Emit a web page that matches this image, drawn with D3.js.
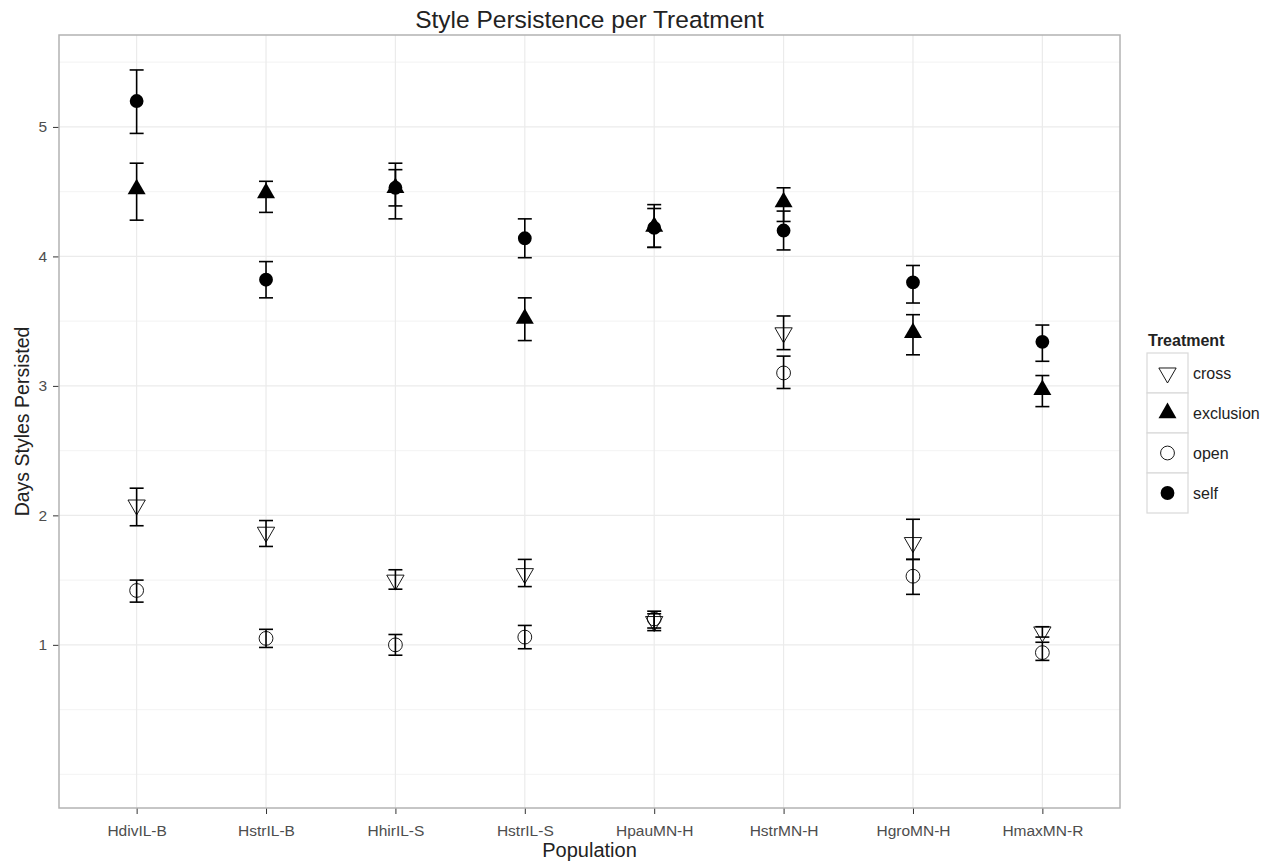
<!DOCTYPE html>
<html>
<head>
<meta charset="utf-8">
<script src="https://cdn.jsdelivr.net/npm/d3@7"></script>
<style>
  body { margin: 0; background: #fff; }
  text { font-family: "Liberation Sans", Arial, sans-serif; }
</style>
</head>
<body>
<svg id="chart" width="1274" height="865"></svg>
<script>
var populations = ['HdivIL-B', 'HstrIL-B', 'HhirIL-S', 'HstrIL-S', 'HpauMN-H', 'HstrMN-H', 'HgroMN-H', 'HmaxMN-R'];
var treatments = ['cross', 'exclusion', 'open', 'self'];

// mean and error bar limits per treatment, in population order
var crossMean = [2.08, 1.87, 1.50, 1.55, 1.18, 3.41, 1.79, 1.10];
var crossLow  = [1.92, 1.76, 1.43, 1.45, 1.11, 3.28, 1.66, 1.06];
var crossHigh = [2.21, 1.96, 1.58, 1.66, 1.24, 3.54, 1.97, 1.14];

var exclMean = [4.52, 4.49, 4.53, 3.52, 4.23, 4.42, 3.41, 2.97];
var exclLow  = [4.28, 4.34, 4.39, 3.35, 4.07, 4.27, 3.24, 2.84];
var exclHigh = [4.72, 4.58, 4.67, 3.68, 4.40, 4.53, 3.55, 3.08];

var openMean = [1.42, 1.05, 1.00, 1.06, 1.20, 3.10, 1.53, 0.94];
var openLow  = [1.33, 0.98, 0.92, 0.97, 1.13, 2.98, 1.39, 0.88];
var openHigh = [1.50, 1.12, 1.08, 1.15, 1.26, 3.23, 1.66, 1.02];

var selfMean = [5.20, 3.82, 4.53, 4.14, 4.22, 4.20, 3.80, 3.34];
var selfLow  = [4.95, 3.68, 4.29, 3.99, 4.07, 4.05, 3.64, 3.19];
var selfHigh = [5.44, 3.96, 4.72, 4.29, 4.37, 4.35, 3.93, 3.47];

var yTicks = [1, 2, 3, 4, 5];
var yMinor = [0, 0.5, 1.5, 2.5, 3.5, 4.5, 5.5];

var series = {
  cross: [crossMean, crossLow, crossHigh],
  exclusion: [exclMean, exclLow, exclHigh],
  open: [openMean, openLow, openHigh],
  self: [selfMean, selfLow, selfHigh]
};

var rows = [];
treatments.forEach(function (t) {
  populations.forEach(function (p, i) {
    rows.push({ pop: p, treat: t, mean: series[t][0][i], lo: series[t][1][i], hi: series[t][2][i] });
  });
});

var margin = { top: 35, right: 154, bottom: 57, left: 59 };
var width = 1274 - margin.left - margin.right;
var height = 865 - margin.top - margin.bottom;

var svg = d3.select('#chart');
var g = svg.append('g')
  .attr('transform', 'translate(' + margin.left + ', ' + margin.top + ')');

var xScale = d3.scalePoint()
  .domain(populations)
  .range([0, width])
  .padding(0.6);
var yScale = d3.scaleLinear()
  .domain([-0.26, 5.71])
  .range([height, 0]);

// grid
g.selectAll('.minor')
  .data(yMinor)
  .enter()
  .append('line')
  .attr('x1', 0).attr('x2', width)
  .attr('y1', function (d) { return yScale(d); })
  .attr('y2', function (d) { return yScale(d); })
  .attr('stroke', '#f5f5f5')
  .attr('stroke-width', 1.2);
g.selectAll('.major')
  .data(yTicks)
  .enter()
  .append('line')
  .attr('x1', 0).attr('x2', width)
  .attr('y1', function (d) { return yScale(d); })
  .attr('y2', function (d) { return yScale(d); })
  .attr('stroke', '#ebebeb')
  .attr('stroke-width', 1.2);
g.selectAll('.vgrid')
  .data(populations)
  .enter()
  .append('line')
  .attr('x1', function (d) { return xScale(d); })
  .attr('x2', function (d) { return xScale(d); })
  .attr('y1', 0).attr('y2', height)
  .attr('stroke', '#ebebeb')
  .attr('stroke-width', 1.2);

// axes
var xAxis = d3.axisBottom(xScale).tickSize(6).tickPadding(11);
var yAxis = d3.axisLeft(yScale).tickValues(yTicks).tickFormat(d3.format('d')).tickSize(6).tickPadding(6);

var gx = g.append('g')
  .attr('transform', 'translate(0, ' + height + ')')
  .call(xAxis);
var gy = g.append('g').call(yAxis);
[gx, gy].forEach(function (a) {
  a.select('.domain').remove();
  a.selectAll('line').attr('stroke', '#333').attr('stroke-width', 1);
  a.selectAll('text').attr('fill', '#4d4d4d').style('font-size', '15.5px');
});

// panel border
g.append('rect')
  .attr('width', width)
  .attr('height', height)
  .attr('fill', 'none')
  .attr('stroke', '#b3b3b3')
  .attr('stroke-width', 1.5);

// error bars
var capW = 7;
var bars = g.selectAll('.err')
  .data(rows)
  .enter()
  .append('g')
  .attr('stroke', '#000')
  .attr('stroke-width', 1.6);
bars.append('line')
  .attr('x1', function (d) { return xScale(d.pop); })
  .attr('x2', function (d) { return xScale(d.pop); })
  .attr('y1', function (d) { return yScale(d.lo); })
  .attr('y2', function (d) { return yScale(d.hi); });
bars.append('line')
  .attr('x1', function (d) { return xScale(d.pop) - capW; })
  .attr('x2', function (d) { return xScale(d.pop) + capW; })
  .attr('y1', function (d) { return yScale(d.lo); })
  .attr('y2', function (d) { return yScale(d.lo); });
bars.append('line')
  .attr('x1', function (d) { return xScale(d.pop) - capW; })
  .attr('x2', function (d) { return xScale(d.pop) + capW; })
  .attr('y1', function (d) { return yScale(d.hi); })
  .attr('y2', function (d) { return yScale(d.hi); });

// point shapes
var shapes = {
  cross: { type: d3.symbolTriangle, size: 130, fill: 'none', rotate: 180 },
  exclusion: { type: d3.symbolTriangle, size: 140, fill: '#000', rotate: 0 },
  open: { type: d3.symbolCircle, size: 150, fill: 'none', rotate: 0 },
  self: { type: d3.symbolCircle, size: 150, fill: '#000', rotate: 0 }
};
function shapePath(t) {
  return d3.symbol().type(shapes[t].type).size(shapes[t].size)();
}

g.selectAll('.pt')
  .data(rows)
  .enter()
  .append('path')
  .attr('d', function (d) { return shapePath(d.treat); })
  .attr('transform', function (d) {
    return 'translate(' + xScale(d.pop) + ',' + yScale(d.mean) + ') rotate(' + shapes[d.treat].rotate + ')';
  })
  .attr('fill', function (d) { return shapes[d.treat].fill; })
  .attr('stroke', '#000')
  .attr('stroke-width', function (d) { return shapes[d.treat].fill === 'none' ? 0.9 : 0; });

// titles
svg.append('text')
  .attr('x', margin.left + width / 2)
  .attr('y', 28)
  .attr('text-anchor', 'middle')
  .style('font-size', '24.5px')
  .attr('fill', '#222')
  .text('Style Persistence per Treatment');
svg.append('text')
  .attr('x', margin.left + width / 2)
  .attr('y', 857)
  .attr('text-anchor', 'middle')
  .style('font-size', '20px')
  .attr('fill', '#222')
  .text('Population');
svg.append('text')
  .attr('transform', 'translate(29, ' + (margin.top + height / 2) + ') rotate(-90)')
  .attr('text-anchor', 'middle')
  .style('font-size', '19.5px')
  .attr('fill', '#222')
  .text('Days Styles Persisted');

// legend
var legend = svg.append('g').attr('transform', 'translate(1147, 333)');
legend.append('text')
  .attr('x', 1)
  .attr('y', 13)
  .style('font-size', '16px')
  .style('font-weight', 'bold')
  .attr('fill', '#222')
  .text('Treatment');
var keys = legend.selectAll('.key')
  .data(treatments)
  .enter()
  .append('g')
  .attr('transform', function (d, i) { return 'translate(0, ' + (20 + i * 40) + ')'; });
keys.append('rect')
  .attr('width', 41)
  .attr('height', 40)
  .attr('fill', '#fff')
  .attr('stroke', '#d9d9d9')
  .attr('stroke-width', 1.2);
keys.append('path')
  .attr('d', function (d) { return shapePath(d); })
  .attr('transform', function (d) { return 'translate(20.5, 20) rotate(' + shapes[d].rotate + ')'; })
  .attr('fill', function (d) { return shapes[d].fill; })
  .attr('stroke', '#000')
  .attr('stroke-width', function (d) { return shapes[d].fill === 'none' ? 0.9 : 0; });
keys.append('text')
  .attr('x', 46)
  .attr('y', 25.5)
  .style('font-size', '16px')
  .attr('fill', '#222')
  .text(function (d) { return d; });
</script>
</body>
</html>
